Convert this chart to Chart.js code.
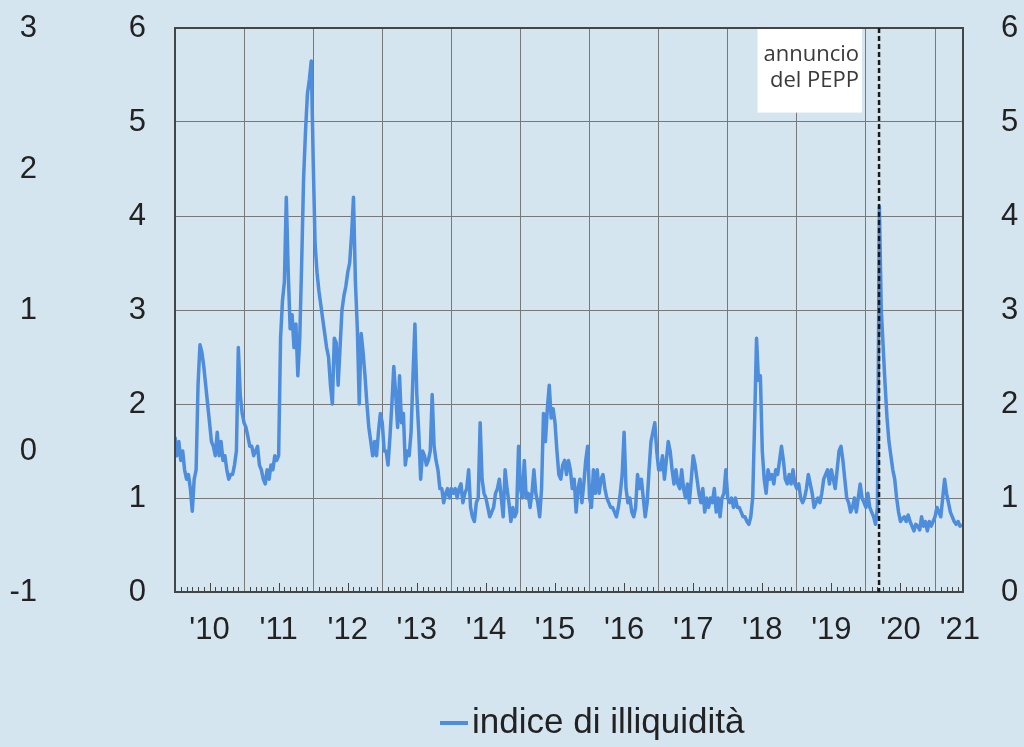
<!DOCTYPE html>
<html><head><meta charset="utf-8">
<script src="https://cdn.jsdelivr.net/npm/chart.js@4.4.1/dist/chart.umd.min.js"></script>
<style>html,body{margin:0;padding:0;background:#d5e5f0;}canvas{display:block;}</style>
</head><body>
<canvas id="c" width="1024" height="747"></canvas>
<script>
// ---- data: illiquidity index, ~3 readings per month (36 per year) ----
const v2010 = [1.65,1.45,1.6,1.4,1.5,1.3,1.2,1.25,1.1,0.86,1.2,1.3,2.2,2.63,2.55,2.4,2.2,2.0,1.8,1.6,1.55,1.45,1.7,1.45,1.6,1.4,1.45,1.3,1.2,1.25,1.25,1.35,1.5,2.6,2.1,1.9];
const v2011 = [1.8,1.75,1.65,1.55,1.55,1.45,1.5,1.55,1.35,1.3,1.2,1.15,1.3,1.2,1.35,1.3,1.45,1.4,1.45,2.7,3.1,3.3,4.2,3.4,2.8,2.95,2.6,2.85,2.3,2.7,3.5,4.4,4.9,5.3,5.45,5.65];
const v2012 = [4.6,3.7,3.4,3.2,3.05,2.9,2.75,2.6,2.5,2.2,2.0,2.7,2.65,2.2,2.6,3.0,3.15,3.25,3.4,3.5,3.8,4.2,3.3,2.8,2.0,2.75,2.55,2.3,2.0,1.75,1.6,1.45,1.6,1.45,1.7,1.9];
const v2013 = [1.8,1.5,1.5,1.35,1.65,2.0,2.4,2.1,1.75,2.3,1.8,1.9,1.35,1.5,1.45,1.7,2.3,2.85,2.1,1.7,1.2,1.5,1.45,1.35,1.4,1.5,2.1,1.55,1.4,1.3,1.1,1.1,0.95,1.05,1.1,1.0];
const v2014 = [1.1,1.05,1.1,1.0,1.1,1.15,0.95,1.05,1.1,1.3,0.9,0.8,0.75,0.95,1.0,1.8,1.2,1.05,1.0,0.9,0.8,0.85,0.9,1.05,1.1,1.2,1.0,0.8,1.3,1.1,0.95,0.75,0.9,0.8,0.85,1.55];
const v2015 = [1.1,1.0,1.4,1.0,1.05,0.9,1.05,1.3,1.05,0.95,0.8,1.1,1.9,1.6,1.95,2.2,1.85,1.95,1.8,1.5,1.25,1.2,1.35,1.4,1.25,1.4,1.3,1.1,1.2,0.85,1.1,1.2,0.95,1.15,1.4,1.55];
const v2016 = [1.0,0.9,1.3,1.05,1.3,1.05,1.2,1.25,1.1,1.0,0.95,0.9,0.9,0.85,0.8,0.9,1.05,1.25,1.7,1.1,0.95,1.0,0.85,0.8,0.9,1.25,1.1,1.2,1.0,0.8,0.95,1.3,1.6,1.7,1.8,1.5];
const v2017 = [1.3,1.3,1.45,1.2,1.4,1.6,1.5,1.3,1.15,1.3,1.15,1.1,1.3,1.1,1.0,1.15,0.95,1.2,1.45,1.35,1.2,1.05,0.95,1.1,0.85,1.0,0.9,1.0,0.95,1.1,0.85,1.0,0.8,1.0,1.05,1.3];
const v2018 = [1.0,0.95,1.0,0.9,1.0,0.9,0.9,0.85,0.8,0.8,0.75,0.72,0.8,1.0,1.8,2.7,2.25,2.3,1.5,1.2,1.05,1.3,1.2,1.25,1.15,1.3,1.25,1.4,1.55,1.4,1.2,1.15,1.25,1.15,1.3,1.15];
const v2019 = [1.1,1.15,1.0,0.95,1.0,1.1,1.25,1.15,1.05,0.9,0.95,1.0,0.95,1.05,1.2,1.25,1.3,1.15,1.3,1.2,1.1,1.3,1.5,1.55,1.4,1.2,1.0,0.95,0.85,0.9,1.0,0.85,1.0,1.15,1.0,0.95];
const v2020 = [0.9,1.05,0.9,0.85,0.8,0.72,0.9,4.1,3.0,2.6,2.2,1.85,1.6,1.45,1.3,1.2,1.0,0.85,0.75,0.78,0.8,0.75,0.82,0.75,0.7,0.65,0.72,0.7,0.66,0.8,0.7,0.75,0.65,0.75,0.7,0.75];
const v2021 = [0.8,0.9,0.85,0.8,1.0,1.2,1.05,0.95,0.85,0.8,0.75,0.72,0.75,0.7,0.72];

const yearStarts = [2010,2011,2012,2013,2014,2015,2016,2017,2018,2019,2020,2021];
const seriesByYear = [v2010,v2011,v2012,v2013,v2014,v2015,v2016,v2017,v2018,v2019,v2020,v2021];
const samplesPerYear = 36;
const xMin = 2010, xMax = 2021.405;
const gridYears = [2010,2011,2012,2013,2014,2015,2016,2017,2018,2019,2020,2021];
const yearLabels = ["'10","'11","'12","'13","'14","'15","'16","'17","'18","'19","'20","'21"];
const labelPos = [2010.5,2011.5,2012.5,2013.5,2014.5,2015.5,2016.5,2017.5,2018.5,2019.5,2020.5,2021.36];
const peppDate = 2020.19;
const annotationLines = ['annuncio','del PEPP'];
const seriesName = 'indice di illiquidità';

// ---- styles ----
const lineColor = '#4d8ddb';
const gridColor = '#787878';
const frameColor = '#454545';
Chart.defaults.font.family = "'Liberation Sans', Arial, Helvetica, sans-serif";
Chart.defaults.font.size = 31;
Chart.defaults.color = '#222';

const points = [];
seriesByYear.forEach((arr, i) => arr.forEach((v, k) => points.push({x: yearStarts[i] + k / samplesPerYear, y: v})));

const decor = {
  id: 'decor',
  beforeDatasetsDraw(chart) {
    const {ctx, chartArea: a, scales: {x, y}} = chart;
    const px = x.getPixelForValue(peppDate);
    ctx.save();
    ctx.font = '22px "Open Sans"';
    const w = Math.max(...annotationLines.map(t => ctx.measureText(t).width));
    const right = px - 20;
    ctx.fillStyle = '#ffffff';
    ctx.fillRect(right - w - 6, a.top + 1, w + 9, y.getPixelForValue(5.1) - a.top - 1);
    ctx.restore();
  },
  afterDatasetsDraw(chart) {
    const {ctx, chartArea: a, scales: {x}} = chart;
    ctx.save();
    // monthly minor ticks along the bottom
    ctx.strokeStyle = '#444';
    ctx.lineWidth = 1;
    ctx.beginPath();
    for (const yr of gridYears) {
      for (let m = 1; m < 12; m++) {
        const v = yr + m / 12;
        if (v >= xMax) break;
        const p = Math.round(x.getPixelForValue(v)) + 0.5;
        const len = m === 6 ? 9 : 5;
        ctx.moveTo(p, a.bottom);
        ctx.lineTo(p, a.bottom - len);
      }
    }
    ctx.stroke();
    // frame
    ctx.strokeStyle = frameColor;
    ctx.lineWidth = 2;
    ctx.strokeRect(a.left, a.top, a.right - a.left, a.bottom - a.top);
    // PEPP line
    const px = x.getPixelForValue(peppDate);
    ctx.strokeStyle = '#1a1a1a';
    ctx.lineWidth = 2.5;
    ctx.setLineDash([5, 3]);
    ctx.beginPath();
    ctx.moveTo(px, a.top);
    ctx.lineTo(px, a.bottom);
    ctx.stroke();
    ctx.setLineDash([]);
    // annotation text
    ctx.font = '22px "Open Sans"';
    ctx.fillStyle = '#3a3a3a';
    ctx.textAlign = 'right';
    ctx.textBaseline = 'alphabetic';
    ctx.fillText(annotationLines[0], px - 20, a.top + 33);
    ctx.fillText(annotationLines[1], px - 20, a.top + 59);
    ctx.restore();
  },
  afterDraw(chart) {
    const {ctx} = chart;
    const ds = chart.data.datasets[0];
    ctx.save();
    ctx.strokeStyle = ds.borderColor;
    ctx.lineWidth = 4;
    ctx.beginPath();
    ctx.moveTo(440, 723);
    ctx.lineTo(468, 723);
    ctx.stroke();
    ctx.font = "35px 'Liberation Sans', Arial, sans-serif";
    ctx.fillStyle = '#222';
    ctx.textAlign = 'left';
    ctx.textBaseline = 'middle';
    ctx.fillText(ds.label, 472, 723);
    ctx.restore();
  }
};

const fitY = w => s => { s.width = w; s.paddingTop = 0; s.paddingBottom = 0; };

new Chart(document.getElementById('c'), {
  type: 'line',
  data: {
    datasets: [{
      label: seriesName,
      data: points,
      borderColor: lineColor,
      backgroundColor: lineColor,
      borderWidth: 3.5,
      pointRadius: 0,
      tension: 0,
      borderJoinStyle: 'round',
      xAxisID: 'x',
      yAxisID: 'y'
    }]
  },
  options: {
    responsive: false,
    animation: false,
    devicePixelRatio: 1,
    layout: {padding: {top: 28, right: 0, bottom: 0, left: 0}},
    plugins: {legend: {display: false}, tooltip: {enabled: false}},
    scales: {
      x: {
        type: 'linear', position: 'bottom', weight: 0, min: xMin, max: xMax,
        afterBuildTicks: s => { s.ticks = gridYears.map(v => ({value: v})); },
        ticks: {display: false},
        grid: {color: gridColor, lineWidth: 1, drawTicks: false},
        border: {display: false},
        afterFit: s => { s.height = 0; }
      },
      xl: {
        type: 'linear', position: 'bottom', weight: 1, min: xMin, max: xMax,
        afterBuildTicks: s => { s.ticks = labelPos.map(v => ({value: v})); },
        ticks: {autoSkip: false, maxRotation: 0, minRotation: 0, padding: 20, callback: (v, i) => yearLabels[i]},
        grid: {display: false, drawTicks: false},
        border: {display: false},
        afterFit: s => { s.height = 155; s.paddingLeft = 0; s.paddingRight = 0; }
      },
      y: {
        type: 'linear', position: 'left', weight: 0, min: 0, max: 6,
        ticks: {stepSize: 1, padding: 29},
        grid: {color: gridColor, lineWidth: 1, drawTicks: false},
        border: {display: false},
        afterFit: fitY(135)
      },
      yg: {
        type: 'linear', position: 'left', weight: 1, min: -1, max: 3,
        ticks: {stepSize: 1, padding: 3},
        grid: {display: false, drawTicks: false},
        border: {display: false},
        afterFit: fitY(40)
      },
      y2: {
        type: 'linear', position: 'right', weight: 0, min: 0, max: 6,
        ticks: {stepSize: 1, padding: 38},
        grid: {display: false, drawTicks: false},
        border: {display: false},
        afterFit: fitY(61)
      }
    }
  },
  plugins: [decor]
});
</script>
</body></html>
